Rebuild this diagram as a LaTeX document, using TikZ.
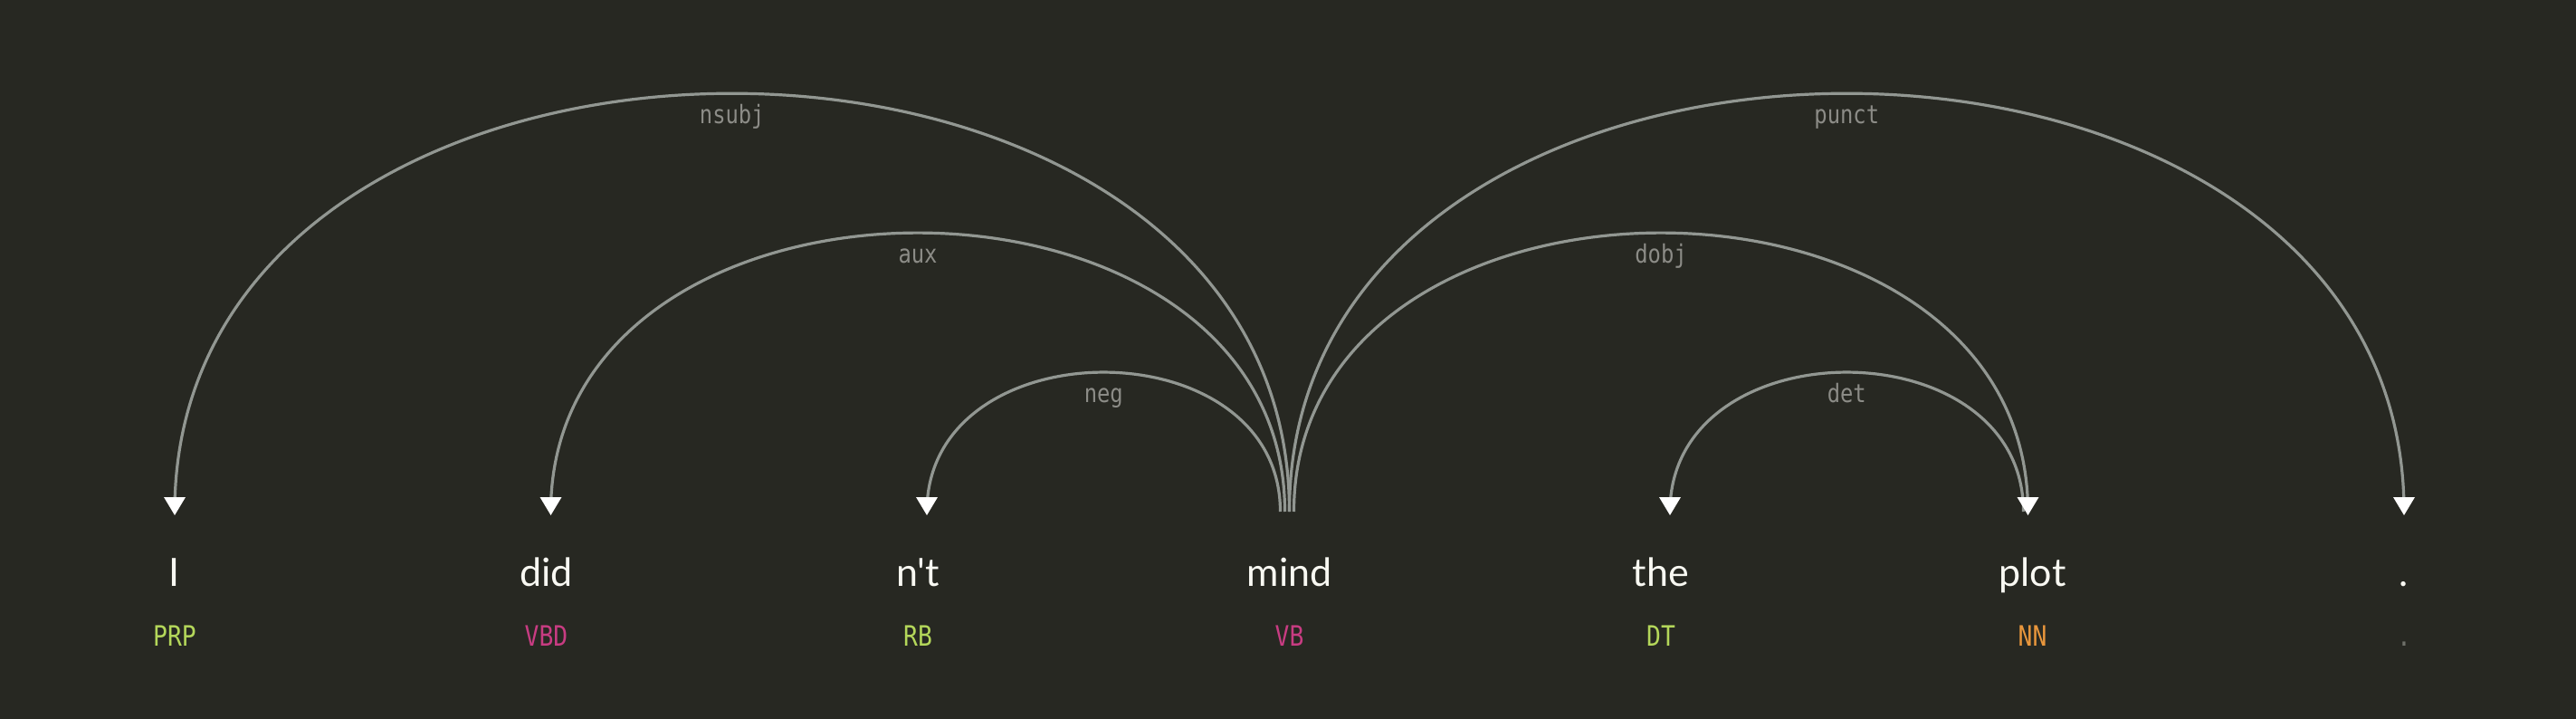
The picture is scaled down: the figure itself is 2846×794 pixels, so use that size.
\documentclass[tikz,border=0pt]{standalone}
\usepackage{fontspec}
\usetikzlibrary{calc}
\newfontfamily\wordfont{Lato}
\newfontfamily\tagfont[FakeStretch=0.85]{DejaVu Sans Mono}
\newfontfamily\labfont[FakeStretch=0.85]{DejaVu Sans Mono}
\definecolor{bg}{HTML}{272822}
\definecolor{arcgray}{RGB}{146,151,146}
\definecolor{labgray}{RGB}{140,140,135}
\definecolor{wordwhite}{HTML}{F8F8F2}
\definecolor{tgreen}{RGB}{180,215,90}
\definecolor{tpink}{RGB}{200,60,130}
\definecolor{torange}{RGB}{232,150,60}
\definecolor{tgray}{RGB}{110,112,105}
\tikzset{
  word/.style={anchor=base, inner sep=0pt, text=wordwhite, font=\wordfont\fontsize{43}{50}\selectfont},
  tag/.style={anchor=base, inner sep=0pt, font=\tagfont\fontsize{31}{36}\selectfont},
  arcline/.style={draw=arcgray, line width=3.2pt},
  lab/.style={anchor=base, inner sep=0pt, yshift=-33pt, text=labgray, font=\labfont\fontsize{28}{32}\selectfont},
  head/.style={fill=white, draw=none}
}
\begin{document}
\begin{tikzpicture}[x=1pt, y=-1pt]
\fill[bg] (0,0) rectangle (2846,794);
\useasboundingbox (0,0) rectangle (2846,794);
% words
\node[word] (w1) at (193,647) {I};
\node[word] (w2) at (603.5,647) {did};
\node[word] (w3) at (1014,647) {n't};
\node[word] (w4) at (1424.5,647) {mind};
\node[word] (w5) at (1835,647) {the};
\node[word] (w6) at (2245.5,647) {plot};
\node[word] (w7) at (2656,647) {.};
% tags
\node[tag, text=tgreen] (t1) at (193,713) {PRP};
\node[tag, text=tpink] (t2) at (603.5,713) {VBD};
\node[tag, text=tgreen] (t3) at (1014,713) {RB};
\node[tag, text=tpink] (t4) at (1424.5,713) {VB};
\node[tag, text=tgreen] (t5) at (1835,713) {DT};
\node[tag, text=torange] (t6) at (2245.5,713) {NN};
\node[tag, text=tgray] (t7) at (2656,713) {.};
% arc anchor points
\coordinate (p1) at (193,565);
\coordinate (p2) at (603.5,565);
\coordinate (p3) at (1014,565);
\coordinate (p4) at (1424.5,565);
\coordinate (p5) at (1835,565);
\coordinate (p6) at (2245.5,565);
\coordinate (p7) at (2656,565);
% arc end coordinates
\coordinate (nsubjA) at (p1);           \coordinate (nsubjB) at (p4);
\coordinate (auxA) at ($(p2)+(5,0)$);   \coordinate (auxB) at ($(p4)+(-5,0)$);
\coordinate (negA) at ($(p3)+(10,0)$);  \coordinate (negB) at ($(p4)+(-10,0)$);
\coordinate (detA) at ($(p5)+(10,0)$);  \coordinate (detB) at ($(p6)+(-10,0)$);
\coordinate (dobjA) at ($(p4)+(5,0)$);  \coordinate (dobjB) at ($(p6)+(-5,0)$);
\coordinate (punctA) at (p4);           \coordinate (punctB) at (p7);
% arcs
\draw[arcline] (nsubjA) .. controls ($(nsubjA)+(0,-615.75)$) and ($(nsubjB)+(0,-615.75)$) .. (nsubjB) node[lab, pos=0.5] {nsubj};
\draw[arcline] (auxA) .. controls ($(auxA)+(0,-410.5)$) and ($(auxB)+(0,-410.5)$) .. (auxB) node[lab, pos=0.5] {aux};
\draw[arcline] (negA) .. controls ($(negA)+(0,-205.25)$) and ($(negB)+(0,-205.25)$) .. (negB) node[lab, pos=0.5] {neg};
\draw[arcline] (detA) .. controls ($(detA)+(0,-205.25)$) and ($(detB)+(0,-205.25)$) .. (detB) node[lab, pos=0.5] {det};
\draw[arcline] (dobjA) .. controls ($(dobjA)+(0,-410.5)$) and ($(dobjB)+(0,-410.5)$) .. (dobjB) node[lab, pos=0.5] {dobj};
\draw[arcline] (punctA) .. controls ($(punctA)+(0,-615.75)$) and ($(punctB)+(0,-615.75)$) .. (punctB) node[lab, pos=0.5] {punct};
% arrowheads
\foreach \c in {nsubjA, auxA, negA, detA, dobjB, punctB}{
  \fill[head] ($(\c)+(0,4)$) -- ($(\c)+(-12,-16)$) -- ($(\c)+(12,-16)$) -- cycle;
}
\end{tikzpicture}
\end{document}
